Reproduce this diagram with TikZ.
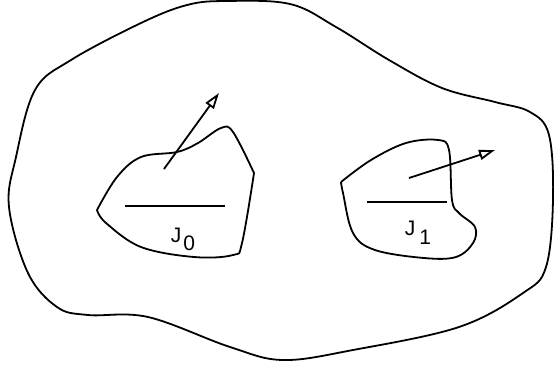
\documentclass[tikz,border=0pt]{standalone}
\usepackage{fontspec}
\setmainfont{Liberation Sans}
\usetikzlibrary{arrows.meta,positioning}

\begin{document}
\begin{tikzpicture}[
  x=1pt, y=-1pt,
  blob/.style={line width=1.8pt, line join=round},
  bar/.style={line width=1.8pt},
  flux/.style={-{Triangle[open, length=16pt, width=10pt]}, line width=1.8pt},
  lbl/.style={inner sep=0pt, font=\fontsize{21}{24}\selectfont}
]
  \useasboundingbox (0,0) rectangle (554,368);

  % Outer region
  \draw[blob] plot[smooth cycle, tension=0.6] coordinates {
    (226,1) (290,4) (336,27) (389,60) (442,88) (495,102) (530,112)
    (549,135) (553,200) (546,267) (523,293) (459,327) (353,350)
    (283,360) (230,347) (148,317) (88,315) (57,307) (28,273)
    (9,207) (16,157) (35,90) (71,60) (141,23) (187,5)};

  % Inner region J0
  \draw[blob] plot[smooth, tension=0.6] coordinates {
    (97,210) (117,177) (141,157) (177,152) (198,143) (221,128) (233,132) (254,173)}
    -- plot[smooth, tension=0.6] coordinates {
    (254,173) (242,243) (233,255) (194,257) (141,247) (106,223) (97,210)} -- cycle;

  % Inner region J1
  \draw[blob] plot[smooth, tension=0.6] coordinates {
    (341,182) (371,160) (406,143) (438,140) (449,150) (452,200) (459,213)
    (475,227) (473,243) (456,257) (424,258) (375,250) (353,233) (343,193) (341,182)};

  % Bars and labels
  \coordinate (barAl) at (125,206);
  \coordinate (barAr) at (225,206);
  \coordinate (barBl) at (367,202);
  \coordinate (barBr) at (447,202);
  \draw[bar] (barAl) -- (barAr);
  \draw[bar] (barBl) -- (barBr);
  \node[lbl] (labA) at (183,239) {J\kern2pt\raisebox{-8pt}{0}};
  \node[lbl] (labB) at (418,233) {J\kern4pt\raisebox{-9pt}{1}};

  % Flux arrows
  \coordinate (tailA) at (164,169);
  \coordinate (tipA) at (219,93);
  \coordinate (tailB) at (409,178);
  \coordinate (tipB) at (495,150);
  \draw[flux] (tailA) -- (tipA);
  \draw[flux] (tailB) -- (tipB);
\end{tikzpicture}
\end{document}
